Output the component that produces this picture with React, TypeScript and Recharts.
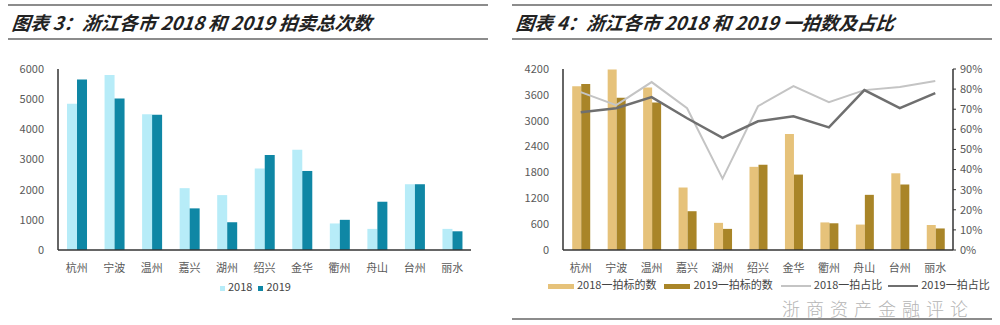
import React from 'react';
import { BarChart, Bar, ComposedChart, Line, XAxis, YAxis } from 'recharts';

// cities
const cities = ['杭州', '宁波', '温州', '嘉兴', '湖州', '绍兴', '金华', '衢州', '舟山', '台州', '丽水'];

// chart 3: total auctions
const total2018 = [4850, 5800, 4500, 2050, 1820, 2700, 3320, 880, 700, 2180, 700];
const total2019 = [5650, 5020, 4480, 1380, 920, 3150, 2620, 1000, 1600, 2180, 620];
const leftTicks = [0, 1000, 2000, 3000, 4000, 5000, 6000];

// chart 4: first auction counts and share
const first2018 = [3800, 4190, 3770, 1450, 630, 1930, 2690, 640, 590, 1780, 580];
const first2019 = [3850, 3530, 3420, 900, 490, 1980, 1750, 620, 1280, 1520, 500];
const ratio2018 = [78.5, 72, 83.5, 70.5, 35.5, 71.5, 81.5, 73.5, 79.5, 81, 84];
const ratio2019 = [68.5, 70.5, 76, 65.5, 55.8, 64, 66.5, 61, 79.5, 70.5, 78];
const countTicks = [0, 600, 1200, 1800, 2400, 3000, 3600, 4200];
const pctTicks = [0, 10, 20, 30, 40, 50, 60, 70, 80, 90];

const leftData = cities.map((c, i) => ({ city: c, y2018: total2018[i], y2019: total2019[i] }));
const rightData = cities.map((c, i) => ({
  city: c,
  b2018: first2018[i],
  b2019: first2019[i],
  r2018: ratio2018[i],
  r2019: ratio2019[i],
}));

const FONT = '"Noto Sans CJK SC", "Noto Sans", sans-serif';
const tickStyle = { fontSize: 11, fill: '#595959', fontFamily: FONT };

function Header({ left, text }: { left: number; text: string }) {
  return (
    <div style={{ position: 'absolute', left, top: 4, width: 480 }}>
      <div style={{ height: 2, background: '#8c8c8c' }} />
      <div
        style={{
          fontFamily: FONT,
          fontStyle: 'italic',
          fontWeight: 700,
          fontSize: 18.5,
          color: '#222',
          lineHeight: '32px',
          paddingLeft: 4,
          transform: 'skewX(-6deg)',
        }}
      >
        {text}
      </div>
      <div style={{ height: 2, background: '#8c8c8c' }} />
    </div>
  );
}

function Swatch({ color, w, h }: { color: string; w: number; h: number }) {
  return <span style={{ display: 'inline-block', width: w, height: h, background: color, marginRight: 3, verticalAlign: 'middle' }} />;
}

export default function App() {
  return (
    <div style={{ position: 'absolute', left: 0, top: 0, width: 1000, height: 325, background: '#fff', overflow: 'hidden' }}>
      <Header left={8} text="图表 3：浙江各市 2018 和 2019 拍卖总次数" />
      <Header left={512} text="图表 4：浙江各市 2018 和 2019 一拍数及占比" />

      {/* left chart */}
      <div style={{ position: 'absolute', left: 0, top: 0 }}>
        <BarChart
          width={490}
          height={325}
          data={leftData}
          margin={{ top: 69, right: 19, left: 8, bottom: 45 }}
          barGap={0}
          barCategoryGap="24%"
        >
          <XAxis
            dataKey="city"
            tick={tickStyle}
            axisLine={{ stroke: '#333', strokeWidth: 1.5 }}
            tickLine={false}
            tickMargin={8}
            height={30}
          />
          <YAxis
            domain={[0, 6000]}
            ticks={leftTicks}
            tick={tickStyle}
            axisLine={{ stroke: '#333', strokeWidth: 1.5 }}
            tickLine={false}
            width={50}
            tickMargin={8}
          />
          <Bar dataKey="y2018" fill="#b7ecf8" isAnimationActive={false} />
          <Bar dataKey="y2019" fill="#0f87a5" isAnimationActive={false} />
        </BarChart>
      </div>
      <div style={{ position: 'absolute', left: 220, top: 279, fontFamily: FONT, fontSize: 11, lineHeight: '15px', color: '#444', whiteSpace: 'nowrap' }}>
        <Swatch color="#b7ecf8" w={5} h={5} />
        <span style={{ marginRight: 6 }}>2018</span>
        <Swatch color="#0f87a5" w={5} h={5} />
        <span>2019</span>
      </div>

      {/* right chart */}
      <div style={{ position: 'absolute', left: 500, top: 0 }}>
        <ComposedChart
          width={500}
          height={325}
          data={rightData}
          margin={{ top: 69, right: 7, left: 8, bottom: 45 }}
          barGap={0}
          barCategoryGap="26%"
        >
          <XAxis
            dataKey="city"
            tick={tickStyle}
            axisLine={{ stroke: '#333', strokeWidth: 1.5 }}
            tickLine={false}
            tickMargin={8}
            height={30}
          />
          <YAxis
            yAxisId="l"
            domain={[0, 4200]}
            ticks={countTicks}
            tick={tickStyle}
            axisLine={{ stroke: '#333', strokeWidth: 1.5 }}
            tickLine={false}
            width={55}
            tickMargin={8}
          />
          <YAxis
            yAxisId="r"
            orientation="right"
            domain={[0, 90]}
            ticks={pctTicks}
            tickFormatter={(v: number) => `${v}%`}
            tick={tickStyle}
            axisLine={{ stroke: '#333', strokeWidth: 1.5 }}
            tickLine={{ stroke: '#333' }}
            tickSize={3}
            width={40}
            tickMargin={4}
          />
          <Bar yAxisId="l" dataKey="b2018" fill="#e6c27a" isAnimationActive={false} />
          <Bar yAxisId="l" dataKey="b2019" fill="#a98528" isAnimationActive={false} />
          <Line yAxisId="r" type="linear" dataKey="r2018" stroke="#c4c4c4" strokeWidth={2} dot={false} isAnimationActive={false} />
          <Line yAxisId="r" type="linear" dataKey="r2019" stroke="#6f6f6f" strokeWidth={2.5} dot={false} isAnimationActive={false} />
        </ComposedChart>
      </div>
      <div style={{ position: 'absolute', left: 548, top: 277, fontFamily: FONT, fontSize: 11, lineHeight: '15px', color: '#444', whiteSpace: 'nowrap' }}>
        <Swatch color="#e6c27a" w={26} h={5} />
        <span style={{ marginRight: 8 }}>2018一拍标的数</span>
        <Swatch color="#a98528" w={26} h={5} />
        <span style={{ marginRight: 8 }}>2019一拍标的数</span>
        <Swatch color="#c4c4c4" w={30} h={2} />
        <span style={{ marginRight: 6 }}>2018一拍占比</span>
        <Swatch color="#6f6f6f" w={30} h={2} />
        <span>2019一拍占比</span>
      </div>

      {/* watermark */}
      <div
        style={{
          position: 'absolute',
          left: 782,
          top: 299,
          fontFamily: FONT,
          fontSize: 18,
          lineHeight: '18px',
          fontWeight: 300,
          color: '#b5b5b5',
          letterSpacing: 6,
          whiteSpace: 'nowrap',
        }}
      >
        浙商资产金融评论
      </div>
      <div style={{ position: 'absolute', left: 512, top: 318, width: 480, height: 2, background: '#8c8c8c' }} />
    </div>
  );
}
